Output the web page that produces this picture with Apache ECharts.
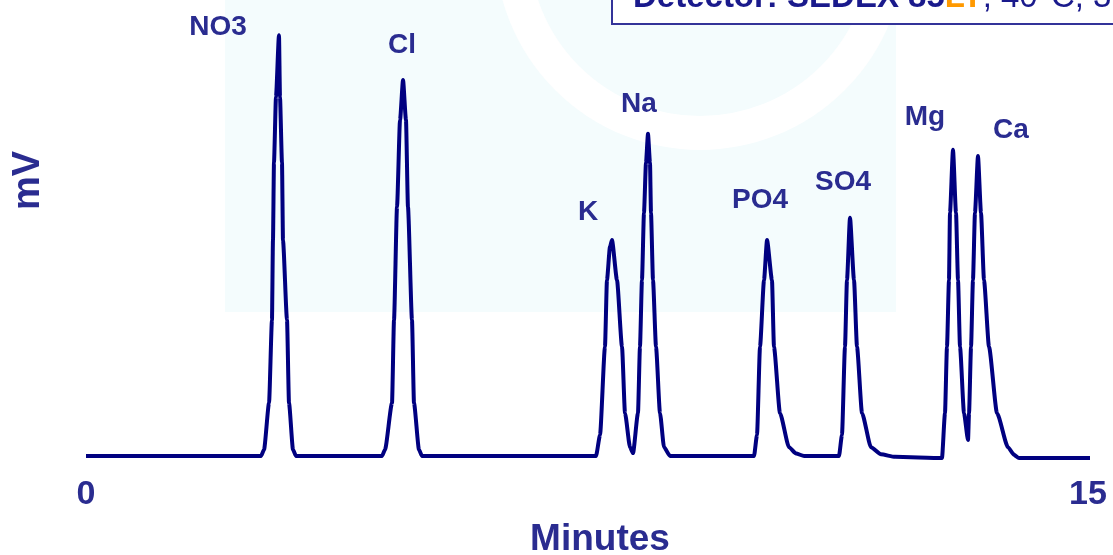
<!DOCTYPE html>
<html>
<head>
<meta charset="utf-8">
<script src="https://cdn.jsdelivr.net/npm/echarts@6/dist/echarts.min.js"></script>
<style>
html,body{margin:0;padding:0;background:#fff;}
#chart{width:1113px;height:555px;}
</style>
</head>
<body>
<div id="chart"></div>
<script>
// Retention time (minutes) of each traced point of the chromatogram
const times = [
  0.000, 2.620, 2.665, 2.740, 2.784, 2.799, 2.814, 2.844, 2.889, 2.904, 2.934, 2.949, 3.009, 3.039, 3.099, 3.144,
  4.431, 4.476, 4.581, 4.611, 4.656, 4.701, 4.746, 4.790, 4.820, 4.880, 4.910, 4.985, 5.030,
  7.635, 7.695, 7.769, 7.799, 7.844, 7.874, 7.949, 8.024, 8.069, 8.144, 8.189,
  8.263, 8.293, 8.323, 8.353, 8.383, 8.413, 8.443, 8.458, 8.488, 8.533, 8.593, 8.653, 8.743,
  10.000, 10.045, 10.090, 10.150, 10.195, 10.269, 10.299, 10.389, 10.524, 10.629, 10.749,
  11.272, 11.317, 11.362, 11.392, 11.437, 11.497, 11.542, 11.617, 11.751, 11.901, 12.111,
  12.814, 12.859, 12.889, 12.919, 12.934, 12.979, 13.024, 13.054, 13.084, 13.144, 13.204,
  13.219, 13.249, 13.278, 13.308, 13.353, 13.398, 13.443, 13.518, 13.638, 13.802, 13.892, 13.967, 15.090
];
// Detector signal (mV) at each of those times
const signal = [
  0, 0, 1.5, 12.6, 32.4, 51.4, 69.8, 85.5, 100.2, 85.5, 69.8, 51.4, 32.4, 12.6, 1.5, 0,
  0, 1.5, 12.6, 32.4, 59.3, 80.0, 89.5, 80.0, 59.3, 32.4, 12.6, 1.5, 0,
  0, 5.0, 26.0, 41.9, 49.8, 51.4, 41.9, 26.0, 10.2, 2.1, 0.7,
  10.2, 26.0, 41.9, 57.9, 69.8, 76.7, 69.8, 57.9, 41.9, 26.0, 10.2, 2.1, 0,
  0, 5.0, 26.0, 41.9, 51.4, 41.9, 26.0, 10.2, 2.1, 0.6, 0,
  0, 5.0, 26.0, 41.9, 56.7, 41.9, 26.0, 10.2, 2.1, 0.4, -0.2,
  -0.5, 10.2, 26.0, 41.9, 57.9, 72.9, 57.9, 41.9, 26.0, 10.2, 3.8,
  10.2, 26.0, 41.9, 57.9, 71.4, 57.9, 41.9, 26.0, 10.2, 2.1, 0.3, -0.5, -0.5
];
// Peak names and where their labels sit (minutes, mV)
const peakNames  = ['NO3', 'Cl', 'K', 'Na', 'PO4', 'SO4', 'Mg', 'Ca'];
const peakLabelX = [1.976, 4.731, 7.515, 8.278, 10.090, 11.332, 12.560, 13.847];
const peakLabelY = [102.1, 97.9, 58.1, 83.8, 61.0, 65.2, 80.7, 77.6];
// Axis tick labels and titles
const xTicks = [0, 15];
const xTitle = 'Minutes';
const yTitle = 'mV';
const detectorParts = ['Detector', ': SEDEX 85', 'LT', ', 40°C, 3'];

const NAVY = '#000080';
const TXT = '#2a2c90';
const FONT = "'Liberation Sans',Arial,sans-serif";

const chart = echarts.init(document.getElementById('chart'), null, {renderer: 'canvas'});
const trace = times.map((t, i) => [t, signal[i]]);
const labelPts = peakNames.map((n, i) => ({name: n, value: [peakLabelX[i], peakLabelY[i]]}));

chart.setOption({
  animation: false,
  backgroundColor: '#ffffff',
  graphic: [
    {type: 'rect', z: -10, silent: true, shape: {x: 225, y: 0, width: 671, height: 312}, style: {fill: '#f4fcfd'}},
    {type: 'circle', z: -9, silent: true, shape: {cx: 700, cy: -55, r: 188}, style: {fill: 'none', stroke: '#ffffff', lineWidth: 34}},
    {type: 'rect', z: 10, shape: {x: 612, y: -20, width: 520, height: 44}, style: {fill: '#ffffff', stroke: '#333399', lineWidth: 2}},
    {type: 'text', z: 11, left: 633, top: -19,
      style: {
        rich: {
          b: {fontFamily: FONT, fontWeight: 'bold', fontSize: 33, fill: '#1a1a8c'},
          o: {fontFamily: FONT, fontWeight: 'bold', fontSize: 33, fill: '#ff9900'},
          n: {fontFamily: FONT, fontWeight: 'normal', fontSize: 33, fill: '#1a1a8c'}
        },
        text: '{b|' + detectorParts[0] + '}{b|' + detectorParts[1] + '}{o|' + detectorParts[2] + '}{n|' + detectorParts[3] + '}'
      }
    }
  ],
  grid: {left: 86, right: 25, top: 27.6, bottom: 90.6, containLabel: false, outerBoundsMode: 'none'},
  xAxis: {
    type: 'value', min: 0, max: 15, interval: 15,
    axisLine: {show: false}, axisTick: {show: false}, splitLine: {show: false},
    axisLabel: {
      margin: 13, color: TXT, fontFamily: FONT, fontWeight: 'bold', fontSize: 34,
      formatter: v => (xTicks.indexOf(v) >= 0 ? String(v) : '')
    },
    name: xTitle, nameLocation: 'middle', nameGap: 57,
    nameTextStyle: {color: TXT, fontFamily: FONT, fontWeight: 'bold', fontSize: 37, padding: [0, 0, 0, 26]}
  },
  yAxis: {
    type: 'value', min: -2, max: 102,
    axisLine: {show: false}, axisTick: {show: false}, splitLine: {show: false}, axisLabel: {show: false},
    name: yTitle, nameLocation: 'middle', nameGap: 38, nameRotate: 90,
    nameTextStyle: {color: TXT, fontFamily: FONT, fontWeight: 'bold', fontSize: 38, align: 'left', padding: [0, 0, 0, 36]}
  },
  series: [
    {
      type: 'line', data: trace, showSymbol: false, symbol: 'none', clip: false,
      smooth: 0.2, smoothMonotone: 'x',
      lineStyle: {color: NAVY, width: 4, join: 'round'}, z: 3
    },
    {
      type: 'scatter', data: labelPts, symbolSize: 0, clip: false, z: 4, silent: true,
      itemStyle: {opacity: 1},
      label: {show: true, position: 'inside', formatter: p => p.name, opacity: 1,
        color: TXT, fontFamily: FONT, fontWeight: 'bold', fontSize: 28}
    }
  ]
});
</script>
</body>
</html>
